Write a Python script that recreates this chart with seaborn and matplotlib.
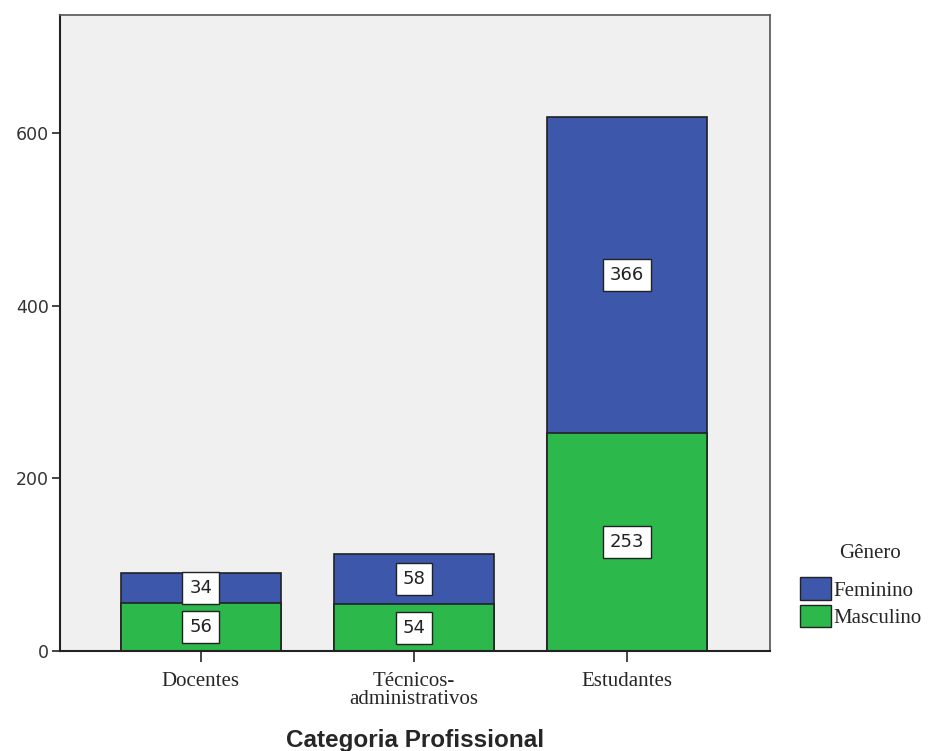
import pandas as pd
import matplotlib.pyplot as plt
import seaborn as sns
from matplotlib.patches import Patch

sns.set_style("white")

categorias = ["Docentes", "Técnicos-\nadministrativos", "Estudantes"]
feminino = [34, 58, 366]
masculino = [56, 54, 253]

df = pd.DataFrame({"categoria": categorias, "Feminino": feminino, "Masculino": masculino})
df["total"] = df["Feminino"] + df["Masculino"]

blue = "#3D57AB"
green = "#2DB84B"

fig = plt.figure(figsize=(9.41, 7.51), dpi=100)
ax = fig.add_axes([0.0638, 0.1332, 0.7545, 0.8468])
ax.set_facecolor("#F0F0F0")

# stacked: total in blue behind, masculino in green in front
sns.barplot(data=df, x="categoria", y="total", color=blue, width=0.75,
            edgecolor="#222222", linewidth=1.2, saturation=1, ax=ax)
sns.barplot(data=df, x="categoria", y="Masculino", color=green, width=0.75,
            edgecolor="#222222", linewidth=1.2, saturation=1, ax=ax)

box = dict(boxstyle="square,pad=0.38", facecolor="white", edgecolor="#222222", linewidth=1)
for i, row in df.iterrows():
    ax.text(i, row["Masculino"] / 2, str(row["Masculino"]), ha="center", va="center",
            fontsize=13, family="DejaVu Sans", color="#222222", bbox=box)
    ax.text(i, row["Masculino"] + row["Feminino"] / 2, str(row["Feminino"]), ha="center",
            va="center", fontsize=13, family="DejaVu Sans", color="#222222", bbox=box)

ax.set_xlim(-0.66, 2.67)
ax.set_ylim(0, 737)
ax.set_yticks([0, 200, 400, 600])
ax.tick_params(axis="y", direction="out", length=6, width=1.2, labelsize=12.5, left=True, pad=2)
ax.tick_params(axis="x", direction="out", length=8, width=1.2, bottom=True, pad=7)
for lab in ax.get_xticklabels():
    lab.set_fontfamily("Liberation Serif")
    lab.set_fontsize(15)
    lab.set_linespacing(0.95)
for lab in ax.get_yticklabels():
    lab.set_color("#333333")

ax.set_ylabel("")
ax.set_xlabel("")
fig.text(ax.get_position().x0 + ax.get_position().width * 0.5, 10 / 751,
         "Categoria Profissional", ha="center", va="center",
         fontsize=17.5, fontweight="bold", family="Liberation Sans")
for s in ["left", "bottom"]:
    ax.spines[s].set_color("#222222")
    ax.spines[s].set_linewidth(1.5)
for s in ["top", "right"]:
    ax.spines[s].set_color("#555555")
    ax.spines[s].set_linewidth(1.2)

handles = [Patch(facecolor=blue, edgecolor="#222222", label="Feminino"),
           Patch(facecolor=green, edgecolor="#222222", label="Masculino")]
leg = ax.legend(handles=handles, loc="upper left",
                bbox_to_anchor=(1.042, 0.116), frameon=False,
                prop={"family": "Liberation Serif", "size": 15},
                handlelength=1.5, handleheight=1.3, handletextpad=0.1,
                labelspacing=0.2, borderaxespad=0, borderpad=0)
fig.text(0.925, 1 - 553 / 751, "Gênero", ha="center", va="center",
         family="Liberation Serif", fontsize=15)

fig.savefig("out.png", dpi=100)
